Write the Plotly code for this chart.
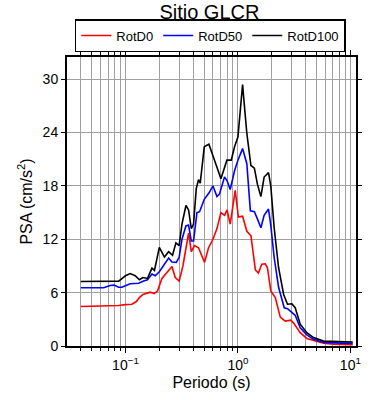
import plotly.graph_objects as go

# RotD0 (red)
periods_d0 = [0.04, 0.073, 0.087, 0.1, 0.114, 0.125, 0.133, 0.143, 0.157, 0.166, 0.18, 0.193, 0.211, 0.234, 0.259,
              0.277, 0.3, 0.324, 0.364, 0.385, 0.411, 0.446, 0.505, 0.548, 0.6, 0.651, 0.706, 0.76, 0.8, 0.854,
              0.946, 1.01, 1.1, 1.2, 1.305, 1.43, 1.52, 1.63, 1.75, 1.83, 1.96, 2.15, 2.38, 2.63, 2.96, 3.16,
              3.58, 4.1, 4.7, 5.77, 7.1, 10.5]
psa_d0 = [4.45, 4.5, 4.55, 4.65, 4.7, 5.0, 5.45, 5.8, 5.95, 6.05, 5.9, 6.2, 7.6, 8.3, 8.95,
          7.7, 7.3, 9.0, 12.7, 10.6, 11.3, 11.05, 9.4, 11.05, 12.0, 13.2, 15.0, 14.7, 15.3, 13.7,
          17.5, 14.5, 14.6, 12.9, 12.4, 8.55, 8.2, 9.2, 9.25, 8.8, 6.2, 5.45, 3.25, 2.8, 2.9, 2.5,
          1.5, 0.85, 0.6, 0.3, 0.2, 0.15]

# RotD50 (blue)
periods_d50 = [0.04, 0.064, 0.073, 0.079, 0.087, 0.093, 0.11, 0.131, 0.145, 0.157, 0.172, 0.184, 0.2, 0.221, 0.242,
               0.259, 0.283, 0.3, 0.318, 0.345, 0.364, 0.385, 0.403, 0.432, 0.456, 0.502, 0.552, 0.6, 0.651, 0.686,
               0.76, 0.8, 0.854, 0.933, 1.0, 1.1, 1.2, 1.29, 1.4, 1.49, 1.6, 1.71, 1.87, 1.96, 2.1,
               2.3, 2.58, 2.76, 3.02, 3.23, 3.58, 4.1, 4.7, 5.77, 7.1, 10.5]
psa_d50 = [6.55, 6.55, 6.8, 6.85, 6.6, 6.6, 7.0, 7.05, 7.3, 7.45, 8.1, 7.9, 8.35, 9.1, 9.9,
           9.45, 9.4, 9.95, 12.0, 13.5, 13.6, 11.8, 11.8, 15.0, 15.1, 16.5, 17.2, 18.0, 16.8, 17.1,
           19.0, 18.6, 17.6, 19.7, 20.9, 22.2, 20.5, 15.2, 15.1, 14.3, 13.3, 14.7, 15.4, 13.6, 9.95,
           6.6, 4.3, 4.2, 3.75, 3.45, 2.05, 1.25, 0.75, 0.4, 0.35, 0.3]

# RotD100 (black)
periods_d100 = [0.04, 0.087, 0.1, 0.11, 0.122, 0.133, 0.143, 0.157, 0.172, 0.181, 0.2, 0.222, 0.242, 0.262, 0.281,
                0.3, 0.318, 0.345, 0.364, 0.385, 0.403, 0.426, 0.446, 0.462, 0.502, 0.552, 0.607, 0.65, 0.706, 0.798,
                0.872, 0.933, 1.0, 1.1, 1.2, 1.305, 1.4, 1.49, 1.6, 1.71, 1.87, 1.96, 2.1, 2.3, 2.55,
                2.76, 3.02, 3.23, 3.58, 4.1, 4.7, 5.77, 7.1, 8.7, 10.5]
psa_d100 = [7.25, 7.3, 7.9, 8.15, 7.9, 7.45, 7.7, 7.6, 8.75, 8.5, 11.1, 10.0, 10.6, 10.2, 11.6,
            11.3, 13.7, 15.8, 15.3, 13.2, 13.7, 17.7, 18.7, 18.3, 22.4, 22.7, 21.2, 20.0, 18.8, 20.9,
            20.9, 22.4, 23.5, 29.4, 23.9, 20.3, 20.0, 18.2, 16.8, 19.0, 19.5, 18.0, 13.3, 8.8, 5.8,
            4.7, 4.75, 4.3, 2.45, 1.5, 0.95, 0.55, 0.5, 0.5, 0.45]

series_names = ["RotD0", "RotD50", "RotD100"]
series_colors = ["#ff0000", "#0000ff", "#000000"]

x_major_vals = [0.1, 1, 10]
x_major_text = ["10<sup>\u22121</sup>", "10<sup>0</sup>", "10<sup>1</sup>"]
x_minor_vals = [m * d for d in (0.01, 0.1, 1) for m in range(2, 10)] + [0.1, 1, 10]
y_tick_vals = [0, 6, 12, 18, 24, 30]

fig = go.Figure()
for name, color, xs, ys in zip(series_names, series_colors,
                               [periods_d0, periods_d50, periods_d100],
                               [psa_d0, psa_d50, psa_d100]):
    fig.add_trace(go.Scatter(x=xs, y=ys, mode="lines", name=name,
                             line=dict(color=color, width=1.6)))

font_family = "Liberation Sans, Arial, Helvetica, sans-serif"
fig.update_layout(
    width=390, height=400,
    margin=dict(l=67, r=34, t=57, b=54, autoexpand=False),
    paper_bgcolor="white", plot_bgcolor="white",
    font=dict(family=font_family, color="black", size=13),
    title=dict(text="Sitio GLCR", x=0.537, xanchor="center", y=0.971, yanchor="middle",
               font=dict(size=20, family=font_family, color="black")),
    showlegend=True,
    legend=dict(orientation="h", x=0.496, xanchor="center", y=1.017, yanchor="bottom",
                bordercolor="black", borderwidth=1.5, bgcolor="white",
                font=dict(size=13, family=font_family),
                itemwidth=30, tracegroupgap=0),
)
fig.update_xaxes(
    type="log", range=[-1.52, 1.05],
    tickmode="array", tickvals=x_major_vals, ticktext=x_major_text,
    ticks="outside", ticklen=5, tickwidth=1, tickcolor="black",
    showgrid=True, gridcolor="#a0a0a0", gridwidth=1,
    minor=dict(tickmode="array", tickvals=x_minor_vals, ticks="outside", ticklen=3,
               tickcolor="black", showgrid=True, gridcolor="#a0a0a0", gridwidth=1),
    showline=True, linecolor="black", linewidth=2, mirror="ticks",
    zeroline=False,
    title=dict(text="Periodo (s)", font=dict(size=16), standoff=5),
    tickfont=dict(size=14),
)
fig.update_yaxes(
    range=[0, 32.5],
    tickmode="array", tickvals=y_tick_vals,
    ticks="outside", ticklen=4, tickwidth=1, tickcolor="black",
    showgrid=True, gridcolor="#a0a0a0", gridwidth=1,
    showline=True, linecolor="black", linewidth=2, mirror="ticks",
    zeroline=False,
    title=dict(text="PSA (cm/s<sup>2</sup>)", font=dict(size=16), standoff=6),
    tickfont=dict(size=14),
)

fig.write_html("out.html", config={"displayModeBar": False},
               post_script="document.body.style.margin='0';")
